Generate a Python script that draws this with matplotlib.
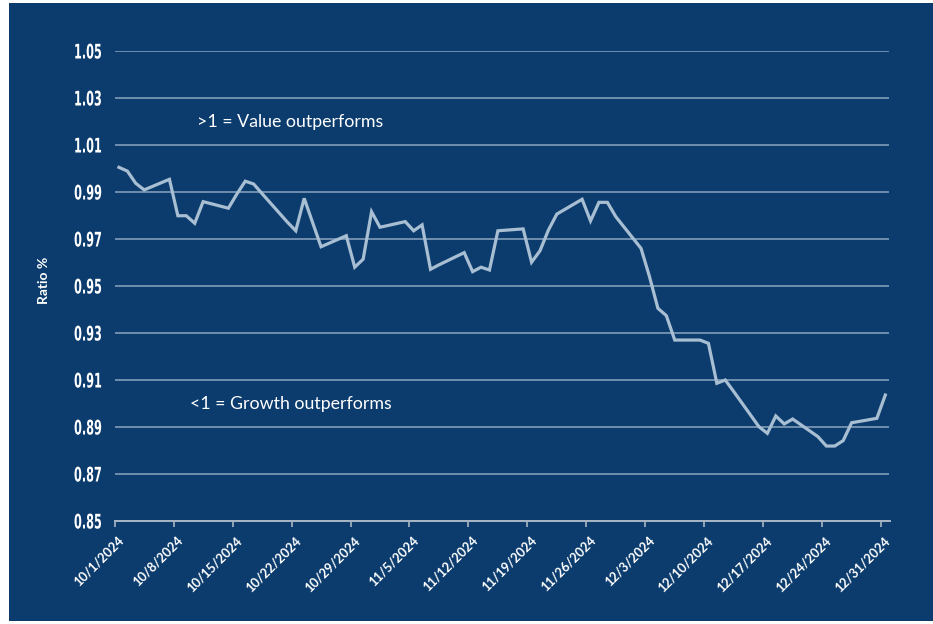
import matplotlib
matplotlib.use("Agg")
import matplotlib.pyplot as plt
import matplotlib.transforms as mtransforms
import matplotlib.patheffects as pe
from matplotlib import font_manager
from matplotlib.patches import Rectangle
import datetime as dt

# trading days (holidays carry the previous value)
oct_days = [1, 2, 3, 4, 7, 8, 9, 10, 11, 14, 15, 16, 17, 18, 21, 22, 23, 24, 25, 28, 29, 30, 31]
nov_days = [1, 4, 5, 6, 7, 8, 11, 12, 13, 14, 15, 18, 19, 20, 21, 22, 25, 26, 27, 28, 29]
dec_days = [2, 3, 4, 5, 6, 9, 10, 11, 12, 13, 16, 17, 18, 19, 20, 23, 24, 25, 26, 27, 30, 31]

oct_vals = [1.0005, 0.9989, 0.9937, 0.9909, 0.9954, 0.9799, 0.9799, 0.9767, 0.9859, 0.9831,
            0.9891, 0.9946, 0.9934, 0.9893, 0.9772, 0.9735, 0.9873, 0.9770, 0.9667, 0.9714,
            0.9580, 0.9614, 0.9816]
nov_vals = [0.9750, 0.9774, 0.9735, 0.9760, 0.9571, 0.9590, 0.9642, 0.9561, 0.9580, 0.9568,
            0.9735, 0.9743, 0.9601, 0.9650, 0.9738, 0.9806, 0.9869, 0.9777, 0.9856, 0.9856,
            0.9795]
dec_vals = [0.9660, 0.9540, 0.9405, 0.9374, 0.9270, 0.9270, 0.9256, 0.9086, 0.9100, 0.9051,
            0.8901, 0.8873, 0.8947, 0.8913, 0.8934, 0.8859, 0.8819, 0.8819, 0.8842, 0.8918,
            0.8937, 0.9036]

y_ticks = [0.85, 0.87, 0.89, 0.91, 0.93, 0.95, 0.97, 0.99, 1.01, 1.03, 1.05]
x_tick_labels = ["10/1/2024", "10/8/2024", "10/15/2024", "10/22/2024", "10/29/2024", "11/5/2024",
                 "11/12/2024", "11/19/2024", "11/26/2024", "12/3/2024", "12/10/2024",
                 "12/17/2024", "12/24/2024", "12/31/2024"]

dates = ([dt.datetime(2024, 10, d) for d in oct_days] + [dt.datetime(2024, 11, d) for d in nov_days]
         + [dt.datetime(2024, 12, d) for d in dec_days])
values = oct_vals + nov_vals + dec_vals
tick_dates = [dt.datetime.strptime(s, "%m/%d/%Y") for s in x_tick_labels]


def pick(names):
    have = {f.name for f in font_manager.fontManager.ttflist}
    for n in names:
        if n in have:
            return n
    return "DejaVu Sans"


txt_font = pick(["Lato", "Open Sans", "DejaVu Sans"])


class Squeeze(pe.AbstractPathEffect):
    # squeeze glyphs horizontally around a fixed right edge (no condensed font available)
    def __init__(self, x0, sx):
        super().__init__()
        self.x0, self.sx = x0, sx

    def draw_path(self, renderer, gc, tpath, affine, rgbFace=None):
        squeeze = mtransforms.Affine2D().translate(-self.x0, 0).scale(self.sx, 1).translate(self.x0, 0)
        renderer.draw_path(gc, tpath, affine + squeeze, rgbFace)


navy = "#0B3C6D"
W, H = 933, 624
fig = plt.figure(figsize=(W / 100, H / 100), dpi=100)
fig.patch.set_facecolor("white")
fig.patches.append(Rectangle((9 / W, 3 / H), 1 - 9 / W, 618 / H, transform=fig.transFigure,
                             facecolor=navy, edgecolor="none", zorder=-10))

ax_left = 114.7
ax = fig.add_axes([ax_left / W, 103 / H, 774.8 / W, 470 / H])
ax.set_facecolor("none")
ax.set_zorder(5)

# excel date axis puts points in the middle of the day
x = [d + dt.timedelta(hours=12) for d in dates]
ax.plot(x, values, color="#A8BED3", lw=2.3, solid_joinstyle="miter", zorder=3)

ax.set_ylim(0.85, 1.05)
ax.set_xlim(dt.datetime(2024, 10, 1), dt.datetime(2025, 1, 1))
ax.set_yticks(y_ticks)
ypad = 13
ax.set_yticklabels([f"{v:.2f}" for v in y_ticks], family="DejaVu Sans", fontweight="bold",
                   fontsize=14.5, color="white")
ax.tick_params(axis="y", length=0, pad=ypad * 0.72)
for lab in ax.get_yticklabels():
    lab.set_path_effects([Squeeze(ax_left - ypad, 0.56)])
ax.grid(axis="y", color="#8CA4BE", lw=1.1)
ax.set_axisbelow(True)

ax.set_xticks(tick_dates)
ax.set_xticklabels(x_tick_labels, rotation=45, ha="right", va="center", rotation_mode="anchor",
                   family=txt_font, fontweight="bold", fontsize=9.3, color="white")
ax.tick_params(axis="x", length=4, width=1.2, color="#A9B6C4", pad=0)
offset = mtransforms.ScaledTranslation(7 / 100, -12 / 100, fig.dpi_scale_trans)
for lab in ax.get_xticklabels():
    lab.set_transform(lab.get_transform() + offset)

for s in ["top", "right", "left"]:
    ax.spines[s].set_visible(False)
ax.spines["bottom"].set_color("#A9B6C4")
ax.spines["bottom"].set_linewidth(1.4)

ax.set_ylabel("Ratio %", family=txt_font, fontweight="bold", fontsize=10, color="white")
ax.yaxis.set_label_coords(-0.0835, 0.511)

ax.text(0.1062, 0.849, ">1 = Value outperforms", transform=ax.transAxes, family=txt_font,
        fontsize=12.8, color="white", va="center", ha="left")
ax.text(0.0972, 0.249, "<1 = Growth outperforms", transform=ax.transAxes, family=txt_font,
        fontsize=12.8, color="white", va="center", ha="left")

fig.savefig("out.png", dpi=100)
